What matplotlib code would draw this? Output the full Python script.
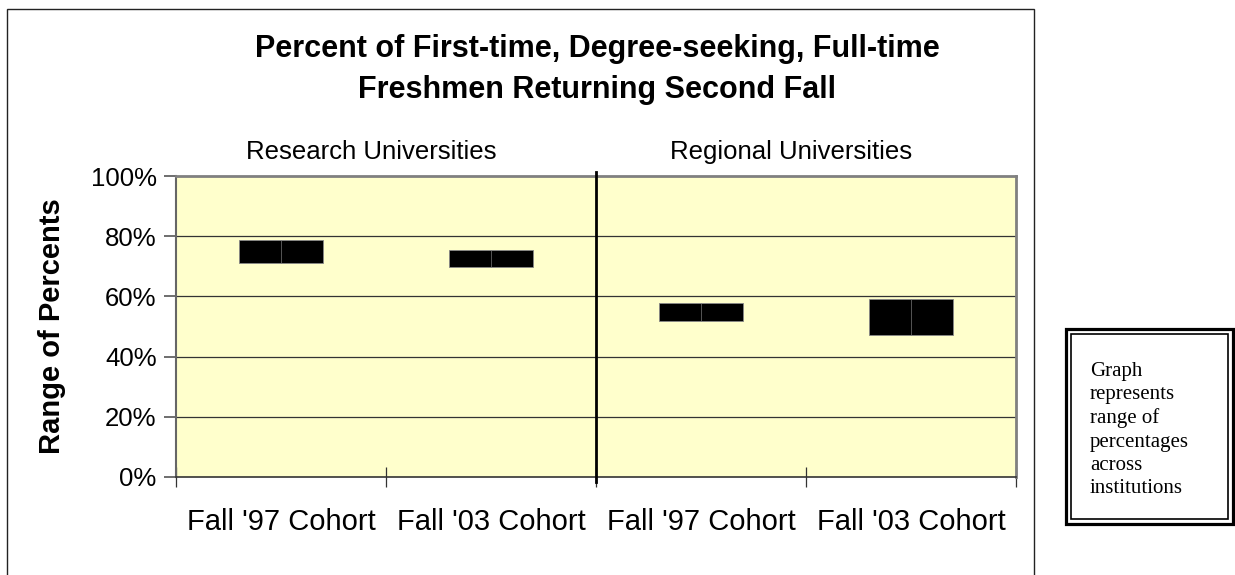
import numpy as np
import matplotlib
matplotlib.use('Agg')
import matplotlib.pyplot as plt
from matplotlib.patches import Rectangle

# data (percent)
cohorts = ["Fall '97 Cohort", "Fall '03 Cohort", "Fall '97 Cohort", "Fall '03 Cohort"]
groups = ["Research Universities", "Regional Universities"]
low = [71.1, 69.8, 51.9, 47.1]
high = [78.8, 75.4, 57.7, 59.0]
yticks = [0, 20, 40, 60, 80, 100]

W, H = 1235, 575
fig = plt.figure(figsize=(W / 100, H / 100), dpi=100)
plt.rcParams['font.family'] = ['Liberation Sans', 'DejaVu Sans']

def fx(px):
    return px / W

def fy(py):
    return 1 - py / H

# outer chart frame
fig.patches.append(Rectangle((fx(7), fy(585)), fx(1034) - fx(7), fy(9) - fy(585),
                             transform=fig.transFigure, fill=False, ec='#222222', lw=1.0))

ax = fig.add_axes([fx(176), fy(477), fx(1016) - fx(176), fy(176) - fy(477)])
ax.set_facecolor('#FFFFCC')

x = np.arange(len(cohorts))
ax.bar(x, np.array(high) - np.array(low), bottom=low, width=0.4,
       color='black', edgecolor='#888888', linewidth=0.6, zorder=3)
ax.vlines(x, low, high, color='#777777', lw=0.5, zorder=4)

ax.set_xlim(-0.5, 3.5)
ax.set_ylim(0, 100)
ax.set_yticks(yticks)
ax.set_yticklabels([f'{v}%' for v in yticks], fontsize=18.5)
for v in yticks[1:-1]:
    ax.axhline(v, color='#333333', lw=0.9, zorder=1)

ax.set_xticks(np.arange(-0.5, 4.0, 1.0))
ax.set_xticklabels([])
ax.set_xticks(x, minor=True)
ax.set_xticklabels(cohorts, minor=True, fontsize=21)
ax.tick_params(axis='x', which='major', direction='inout', length=14, width=0.9, color='#333333')
ax.tick_params(axis='x', which='minor', length=0, pad=22)
ax.tick_params(axis='y', direction='out', length=9, width=1.2, color='#555555', pad=5)

ax.spines['top'].set_color('#808080')
ax.spines['top'].set_linewidth(2.0)
ax.spines['right'].set_color('#808080')
ax.spines['right'].set_linewidth(2.0)
ax.spines['left'].set_color('#666666')
ax.spines['left'].set_linewidth(1.5)
ax.spines['bottom'].set_color('#333333')
ax.spines['bottom'].set_linewidth(1.2)

# divider between the two groups
ax.axvline(1.5, ymin=-0.017, ymax=1.013, color='black', lw=2.0, clip_on=False, zorder=5)

ax.set_ylabel('Range of Percents', fontsize=21, fontweight='bold', labelpad=18)

# group labels
ax.text(0.5 - 0.07, 1.08, groups[0], transform=ax.get_xaxis_transform(),
        ha='center', va='center', fontsize=18.5)
ax.text(2.5 - 0.07, 1.08, groups[1], transform=ax.get_xaxis_transform(),
        ha='center', va='center', fontsize=18.5)

fig.text(fx(597), fy(69.5), 'Percent of First-time, Degree-seeking, Full-time\nFreshmen Returning Second Fall',
         ha='center', va='center', fontsize=22, fontweight='bold', linespacing=1.5)

# note box with double border
fig.patches.append(Rectangle((fx(1066), fy(524)), fx(1233) - fx(1066), fy(329) - fy(524),
                             transform=fig.transFigure, fill=False, ec='black', lw=2.3))
fig.patches.append(Rectangle((fx(1071), fy(519)), fx(1228) - fx(1071), fy(334) - fy(519),
                             transform=fig.transFigure, fill=False, ec='black', lw=1.2))
fig.text(fx(1090), fy(430), 'Graph\nrepresents\nrange of\npercentages\nacross\ninstitutions',
         ha='left', va='center', fontsize=15, family=['Liberation Serif', 'DejaVu Serif'],
         linespacing=1.3)

fig.savefig('out.png', dpi=100)
